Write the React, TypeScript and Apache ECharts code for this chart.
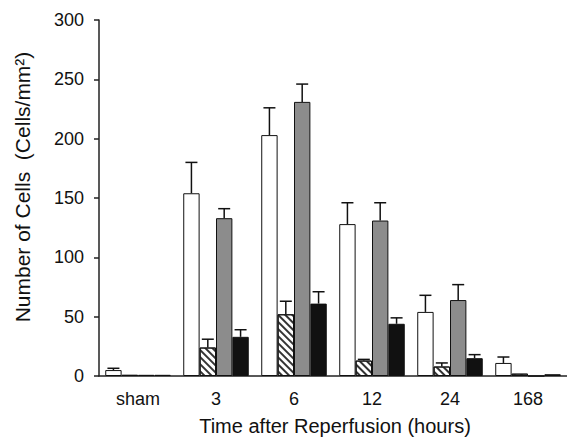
import React, { useEffect, useRef } from "react";
import * as echarts from "echarts";

const categories = ["sham", "3", "6", "12", "24", "168"];
const yTicks = [0, 50, 100, 150, 200, 250, 300];

const whiteVals = [5, 154, 203, 128, 54, 11];
const whiteErr = [6.5, 180, 226, 146, 68, 16];
const hatchVals = [1, 24, 52, 13, 8, 2];
const hatchErr = [1, 31, 63, 14, 11, 2];
const grayVals = [1, 133, 231, 131, 64, 0];
const grayErr = [1, 141, 246, 146, 77, 0];
const blackVals = [1, 33, 61, 44, 15, 1.5];
const blackErr = [1, 39, 71, 49, 18, 1.5];

const FONT = "'Liberation Sans', Arial, Helvetica, sans-serif";
const BAR_FRAC = 0.21;

export default function App() {
  const ref = useRef<HTMLDivElement>(null);
  useEffect(() => {
    const chart = echarts.init(ref.current!, null, { renderer: "svg" });
    const groups = [
      { name: "white", vals: whiteVals, err: whiteErr, color: "#ffffff", decal: undefined as any },
      {
        name: "hatched",
        vals: hatchVals,
        err: hatchErr,
        color: "#ffffff",
        decal: {
          symbol: "rect",
          symbolSize: 1,
          dashArrayX: [[1, 0]],
          dashArrayY: [1.4, 3],
          rotation: Math.PI / 4,
          color: "#333333",
        },
      },
      { name: "gray", vals: grayVals, err: grayErr, color: "#8c8c8c", decal: undefined },
      { name: "black", vals: blackVals, err: blackErr, color: "#111111", decal: undefined },
    ];

    const barSeries = groups.map((g) => ({
      type: "bar",
      name: g.name,
      data: g.vals,
      barWidth: BAR_FRAC * 100 + "%",
      barGap: "0%",
      itemStyle: {
        color: g.color,
        borderColor: "#111",
        borderWidth: 1,
        decal: g.decal,
      },
      z: 2,
    }));

    const errSeries = groups.map((g, i) => ({
      type: "custom",
      name: g.name + "-err",
      coordinateSystem: "cartesian2d",
      encode: { x: 0, y: [1, 2] },
      data: g.vals.map((v, k) => [k, v, g.err[k]]),
      z: 3,
      renderItem: (params: any, api: any) => {
        const k = api.value(0);
        const v = api.value(1);
        const e = api.value(2);
        if (!(e > v + 0.2)) return null;
        const band = api.size([1, 0])[0];
        const bw = band * BAR_FRAC;
        const base = api.coord([k, v]);
        const top = api.coord([k, e]);
        const x = base[0] + (i - 1.5) * bw;
        const half = 6;
        return {
          type: "group",
          children: [
            {
              type: "line",
              shape: { x1: x, y1: base[1], x2: x, y2: top[1] },
              style: { stroke: "#111", lineWidth: 1.5 },
            },
            {
              type: "line",
              shape: { x1: x - half, y1: top[1], x2: x + half, y2: top[1] },
              style: { stroke: "#111", lineWidth: 1.5 },
            },
          ],
        };
      },
    }));

    chart.setOption({
      animation: false,
      textStyle: { fontFamily: FONT },
      grid: { left: 99, top: 20, bottom: 63, width: 474 },
      xAxis: {
        type: "category",
        data: categories,
        boundaryGap: true,
        axisLine: { lineStyle: { color: "#222", width: 1.5 } },
        axisTick: { length: 6, interval: 0, lineStyle: { color: "#222", width: 1.5 } },
        axisLabel: { color: "#111", fontSize: 18, margin: 14, fontFamily: FONT },
      },
      yAxis: {
        type: "value",
        min: yTicks[0],
        max: yTicks[yTicks.length - 1],
        interval: 50,
        axisLine: { show: true, lineStyle: { color: "#222", width: 1.5 } },
        axisTick: { show: true, length: 5, lineStyle: { color: "#222", width: 1.5 } },
        splitLine: { show: false },
        axisLabel: { color: "#111", fontSize: 18, margin: 15, fontFamily: FONT },
      },
      graphic: [
        {
          type: "text",
          x: 22,
          y: 187,
          rotation: Math.PI / 2,
          style: {
            text: "Number of Cells  (Cells/mm²)",
            fontSize: 21,
            fontFamily: FONT,
            fill: "#111",
            textAlign: "center",
            textVerticalAlign: "middle",
          },
        },
        {
          type: "text",
          x: 335,
          y: 426,
          style: {
            text: "Time after Reperfusion (hours)",
            fontSize: 20,
            fontFamily: FONT,
            fill: "#111",
            textAlign: "center",
            textVerticalAlign: "middle",
          },
        },
      ],
      series: [...barSeries, ...errSeries],
    });
    return () => chart.dispose();
  }, []);
  return <div ref={ref} style={{ width: 567, height: 439, position: "absolute", left: 0, top: 0 }} />;
}
